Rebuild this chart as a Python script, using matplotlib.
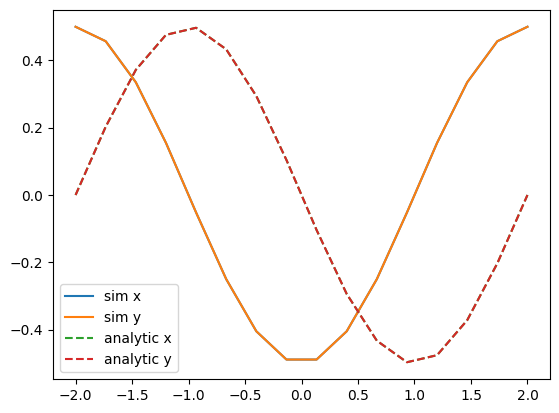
import matplotlib
matplotlib.use('Agg')
import matplotlib.pyplot as plt

# 16 sample points between -2 and 2
x = [-2.0, -1.7333, -1.4667, -1.2, -0.9333, -0.6667, -0.4, -0.1333,
     0.1333, 0.4, 0.6667, 0.9333, 1.2, 1.4667, 1.7333, 2.0]

# simulated values (x and y components coincide)
sim_x = [0.5, 0.457, 0.335, 0.155, -0.052, -0.25, -0.405, -0.489,
         -0.489, -0.405, -0.25, -0.052, 0.155, 0.335, 0.457, 0.5]
sim_y = [0.5, 0.457, 0.335, 0.155, -0.052, -0.25, -0.405, -0.489,
         -0.489, -0.405, -0.25, -0.052, 0.155, 0.335, 0.457, 0.5]

# analytic values
ana_x = [0.0, 0.203, 0.372, 0.476, 0.497, 0.433, 0.294, 0.104,
         -0.104, -0.294, -0.433, -0.497, -0.476, -0.372, -0.203, 0.0]
ana_y = [0.0, 0.203, 0.372, 0.476, 0.497, 0.433, 0.294, 0.104,
         -0.104, -0.294, -0.433, -0.497, -0.476, -0.372, -0.203, 0.0]

fig, ax = plt.subplots(figsize=(5.59, 4.13), dpi=100)
fig.subplots_adjust(left=0.0948, right=0.984, bottom=0.0823, top=0.9758)

ax.plot(x, sim_x, label='sim x')
ax.plot(x, sim_y, label='sim y')
ax.plot(x, ana_x, '--', label='analytic x')
ax.plot(x, ana_y, '--', label='analytic y')

ax.legend(loc='lower left')
fig.savefig('out.png')
